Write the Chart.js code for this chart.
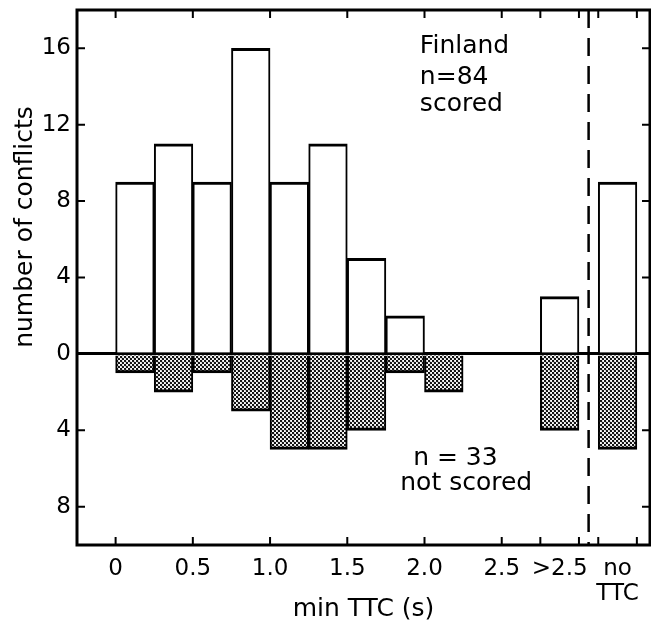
<!DOCTYPE html>
<html lang="en">
<head>
  <meta charset="UTF-8">
  <title>Finland – min TTC</title>
  <script src="https://cdn.jsdelivr.net/npm/chart.js"></script>
  <style>
    html, body { margin: 0; padding: 0; background: #fff; }
    #wrap { width: 651px; height: 627px; position: relative; }
  </style>
</head>
<body>
  <div id="wrap"><canvas id="grafico"></canvas></div>

  <script>
    // bin centres (s); last two columns are ">2.5" and "no TTC"
    const binCenters = [0.125, 0.375, 0.625, 0.875, 1.125, 1.375, 1.625, 1.875, 2.125, 2.375, 2.875, 3.25];
    const scored     = [9, 11, 9, 16, 9, 11, 5, 2, 0, 0, 3, 9];
    const notScored  = [1, 2, 1, 3, 5, 5, 4, 1, 2, 0, 4, 5];

    const xTickValues = [0, 0.5, 1, 1.5, 2, 2.5, 2.875, 3.25];
    const xTickLabels = ['0', '0.5', '1.0', '1.5', '2.0', '2.5', '>2.5', ['no', 'TTC']];
    const xTickMarks  = [0, 0.5, 1, 1.5, 2, 2.5, 2.75, 3, 3.125, 3.375];
    const yTickValues = [-8, -4, 0, 4, 8, 12, 16];
    const dividerX = 3.0625;

    // text placed in data coordinates
    const notes = [
      { text: 'Finland', x: 1.97, y: 15.75, align: 'left' },
      { text: 'n=84', x: 1.97, y: 14.15, align: 'left' },
      { text: 'scored', x: 1.97, y: 12.7, align: 'left' },
      { text: 'n = 33', x: 2.2, y: -5.8, align: 'center' },
      { text: 'not scored', x: 2.27, y: -7.1, align: 'center' }
    ];

    Chart.defaults.font.family = "'DejaVu Sans', sans-serif";
    Chart.defaults.color = '#000';

    function stipple() {
      const c = document.createElement('canvas');
      c.width = 4; c.height = 4;
      const g = c.getContext('2d');
      g.fillStyle = '#fff';
      g.fillRect(0, 0, 4, 4);
      g.fillStyle = '#111';
      [[1, 1], [3, 3]].forEach(p => {
        g.beginPath();
        g.arc(p[0], p[1], 1.25, 0, Math.PI * 2);
        g.fill();
      });
      return g.createPattern(c, 'repeat');
    }

    const frame = {
      id: 'frame',
      afterDatasetsDraw(chart) {
        const { ctx, chartArea: a, scales: { x, y } } = chart;
        ctx.save();
        ctx.strokeStyle = '#000';
        ctx.lineCap = 'butt';

        // dashed divider before "no TTC"
        const dx = x.getPixelForValue(dividerX);
        ctx.lineWidth = 2.5;
        ctx.setLineDash([18, 10]);
        ctx.beginPath();
        ctx.moveTo(dx, a.top);
        ctx.lineTo(dx, a.bottom);
        ctx.stroke();
        ctx.setLineDash([]);

        ctx.lineWidth = 3;
        ctx.strokeRect(a.left, a.top, a.right - a.left, a.bottom - a.top);

        // inward tick marks on all four sides
        ctx.lineWidth = 2;
        ctx.beginPath();
        xTickMarks.forEach(v => {
          const px = x.getPixelForValue(v);
          ctx.moveTo(px, a.bottom); ctx.lineTo(px, a.bottom - 8);
          ctx.moveTo(px, a.top); ctx.lineTo(px, a.top + 8);
        });
        yTickValues.forEach(v => {
          const py = y.getPixelForValue(v);
          ctx.moveTo(a.left, py); ctx.lineTo(a.left + 8, py);
          ctx.moveTo(a.right, py); ctx.lineTo(a.right - 8, py);
        });
        ctx.stroke();

        // y title
        ctx.fillStyle = '#000';
        ctx.font = "25px 'DejaVu Sans'";
        ctx.textAlign = 'center';
        ctx.textBaseline = 'middle';
        ctx.save();
        ctx.translate(25, 227);
        ctx.rotate(-Math.PI / 2);
        ctx.fillText('number of conflicts', 0, 0);
        ctx.restore();

        // annotations
        ctx.textBaseline = 'alphabetic';
        notes.forEach(n => {
          ctx.textAlign = n.align;
          ctx.fillText(n.text, x.getPixelForValue(n.x), y.getPixelForValue(n.y));
        });
        ctx.restore();
      }
    };

    const barBorder = { top: 3, bottom: 3, left: 2, right: 2 };

    new Chart(document.getElementById('grafico'), {
      type: 'bar',
      data: {
        datasets: [
          {
            label: 'scored',
            data: binCenters.map((c, i) => ({ x: c, y: scored[i] || null })),
            backgroundColor: '#fff',
            borderColor: '#000',
            borderWidth: barBorder,
            borderSkipped: 'start'
          },
          {
            label: 'not scored',
            data: binCenters.map((c, i) => ({ x: c, y: notScored[i] ? -notScored[i] : null })),
            backgroundColor: stipple(),
            borderColor: '#000',
            borderWidth: barBorder,
            borderSkipped: 'start'
          }
        ]
      },
      options: {
        responsive: true,
        maintainAspectRatio: false,
        animation: false,
        grouped: false,
        barPercentage: 1,
        categoryPercentage: 1,
        layout: { padding: { top: 10, right: 1, left: 0, bottom: 0 } },
        plugins: {
          legend: { display: false },
          tooltip: { enabled: false }
        },
        scales: {
          x: {
            type: 'linear',
            offset: false,
            min: -0.25,
            max: 3.46,
            afterBuildTicks: s => { s.ticks = xTickValues.map(v => ({ value: v })); },
            afterFit: s => { s.height = 82; s.paddingLeft = 0; s.paddingRight = 0; },
            grid: { display: false, drawTicks: false, offset: false },
            border: { display: false },
            ticks: {
              autoSkip: false,
              maxRotation: 0,
              padding: 11,
              font: { size: 23, lineHeight: 1.1 },
              callback: (v, i) => xTickLabels[i]
            },
            title: {
              display: true,
              text: 'min TTC (s)',
              font: { size: 25 },
              padding: { top: 0, bottom: 3 }
            }
          },
          y: {
            min: -10,
            max: 18,
            afterBuildTicks: s => { s.ticks = yTickValues.map(v => ({ value: v })); },
            afterFit: s => { s.width = 77; s.paddingTop = 0; s.paddingBottom = 0; },
            grid: {
              drawTicks: false,
              color: c => (c.tick && c.tick.value === 0) ? '#000' : 'rgba(0,0,0,0)',
              lineWidth: 3
            },
            border: { display: false },
            ticks: {
              padding: 6,
              font: { size: 23 },
              callback: v => Math.abs(v)
            }
          }
        }
      },
      plugins: [frame]
    });
  </script>
</body>
</html>
